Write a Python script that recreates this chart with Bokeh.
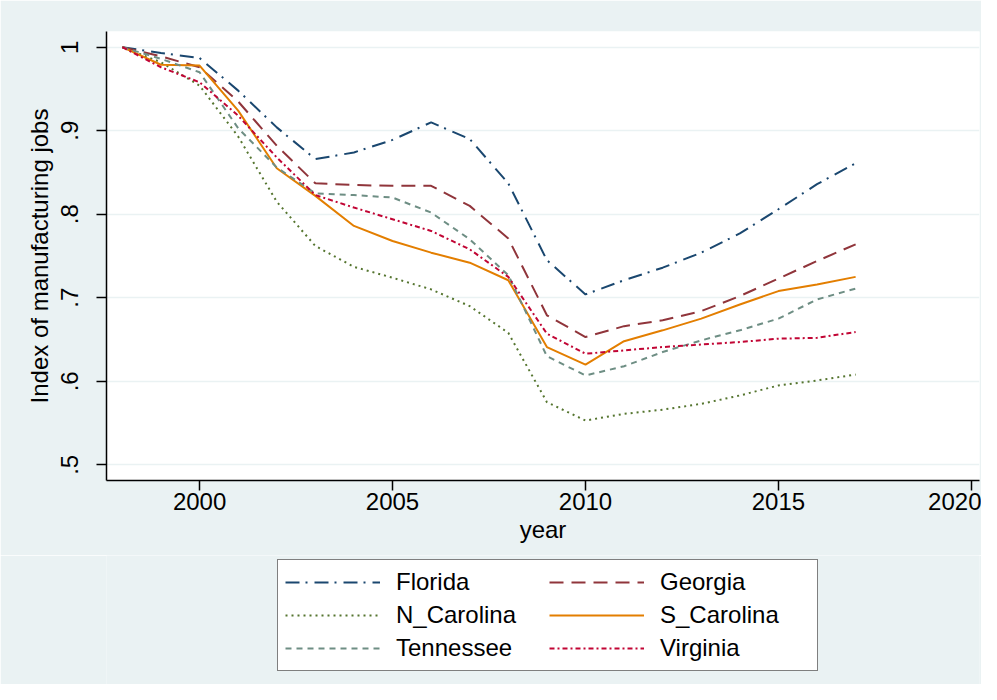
from bokeh.plotting import figure
from bokeh.models import Range1d, FixedTicker, Legend, LegendItem
from bokeh.layouts import column
from bokeh.embed import file_html
from bokeh.resources import INLINE

years = list(range(1998, 2018))
florida = [1.0, 0.993, 0.987, 0.948, 0.904, 0.866, 0.874, 0.889, 0.910, 0.890,
           0.837, 0.745, 0.704, 0.721, 0.736, 0.754, 0.777, 0.806, 0.836, 0.861]
georgia = [1.0, 0.989, 0.976, 0.935, 0.882, 0.837, 0.835, 0.834, 0.834, 0.810,
           0.771, 0.679, 0.653, 0.666, 0.673, 0.684, 0.702, 0.723, 0.744, 0.764]
n_carolina = [1.0, 0.982, 0.954, 0.893, 0.815, 0.762, 0.737, 0.724, 0.710, 0.690,
              0.658, 0.575, 0.553, 0.561, 0.566, 0.573, 0.583, 0.595, 0.601, 0.608]
s_carolina = [1.0, 0.979, 0.978, 0.924, 0.855, 0.822, 0.786, 0.768, 0.754, 0.742,
              0.721, 0.641, 0.620, 0.648, 0.661, 0.675, 0.692, 0.708, 0.716, 0.725]
tennessee = [1.0, 0.986, 0.970, 0.903, 0.856, 0.825, 0.823, 0.820, 0.802, 0.770,
             0.727, 0.630, 0.607, 0.618, 0.635, 0.649, 0.661, 0.675, 0.698, 0.711]
virginia = [1.0, 0.976, 0.958, 0.918, 0.868, 0.823, 0.808, 0.794, 0.780, 0.758,
            0.725, 0.657, 0.633, 0.637, 0.641, 0.644, 0.647, 0.651, 0.652, 0.659]

x_ticks = [2000, 2005, 2010, 2015, 2020]
y_ticks = [0.5, 0.6, 0.7, 0.8, 0.9, 1.0]
y_tick_labels = [".5", ".6", ".7", ".8", ".9", "1"]

FONT = "Liberation Sans"
BG = "#eaf2f3"

p = figure(frame_width=873, frame_height=449,
           output_backend="svg", toolbar_location=None,
           x_range=Range1d(1997.588, 2020.21), y_range=Range1d(0.4812, 1.0188),
           min_border_left=106, min_border_right=2, min_border_top=31,
           min_border_bottom=75, border_fill_color=BG,
           background_fill_color="white", outline_line_color=None)

series = [
    ("Florida", florida, "#1a476f", "14 6 2 7"),
    ("Georgia", georgia, "#90353b", "14 8"),
    ("N_Carolina", n_carolina, "#55752f", "2 4"),
    ("S_Carolina", s_carolina, "#e37e00", "solid"),
    ("Tennessee", tennessee, "#6e8e84", "6 5"),
    ("Virginia", virginia, "#c10534", "5 3 2 3"),
]
for name, vals, color, dash in series:
    p.line(years, vals, line_color=color, line_width=2, line_dash=dash)

# axes
p.xaxis.ticker = FixedTicker(ticks=x_ticks)
p.yaxis.ticker = FixedTicker(ticks=y_ticks)
p.yaxis.major_label_overrides = dict(zip(y_ticks, y_tick_labels))
p.yaxis.major_label_orientation = "parallel"
p.xaxis.axis_label = "year"
p.yaxis.axis_label = "Index of manufacturing jobs"
for ax in (p.xaxis, p.yaxis):
    ax.major_label_text_font = FONT
    ax.major_label_text_font_size = "24px"
    ax.major_label_text_color = "black"
    ax.axis_label_text_font = FONT
    ax.axis_label_text_font_size = "24px"
    ax.axis_label_text_font_style = "normal"
    ax.axis_label_text_color = "black"
    ax.axis_line_color = "black"
    ax.axis_line_width = 1.5
    ax.major_tick_line_color = "black"
    ax.major_tick_line_width = 1.5
    ax.major_tick_out = 10
    ax.major_tick_in = 0
    ax.minor_tick_line_color = None
p.xaxis.major_label_standoff = 2
p.xaxis.axis_label_standoff = 3
p.yaxis.major_label_standoff = 18
p.yaxis.axis_label_standoff = 6

p.xgrid.visible = False
p.ygrid.ticker = FixedTicker(ticks=y_ticks)
p.ygrid.grid_line_color = BG
p.ygrid.grid_line_width = 1.5

# legend strip below the chart: same series/styles, drawn out of view so only
# the legend keys show
lg = figure(width=981, height=129, output_backend="svg", toolbar_location=None,
            x_range=Range1d(0, 1), y_range=Range1d(0, 1),
            x_axis_location=None, y_axis_location=None,
            min_border=0, border_fill_color=BG, background_fill_color=BG,
            outline_line_color=None)
lg.grid.visible = False
proxies = {}
for name, vals, color, dash in series:
    proxies[name] = lg.line(years, vals, line_color=color, line_width=2, line_dash=dash)

order = ["Florida", "N_Carolina", "Tennessee", "Georgia", "S_Carolina", "Virginia"]
legend = Legend(items=[LegendItem(label=n, renderers=[proxies[n]]) for n in order],
                orientation="vertical", nrows=3, location=(171, 13),
                glyph_width=95, label_standoff=16, label_height=30, label_width=150,
                spacing=3, padding=7,
                label_text_font=FONT, label_text_font_size="24px",
                label_text_color="black",
                border_line_color="black", border_line_width=1.2,
                background_fill_color="white", background_fill_alpha=1.0)
lg.add_layout(legend, "center")

layout = column(p, lg, spacing=0)
open("out.html", "w").write(file_html(layout, INLINE))
